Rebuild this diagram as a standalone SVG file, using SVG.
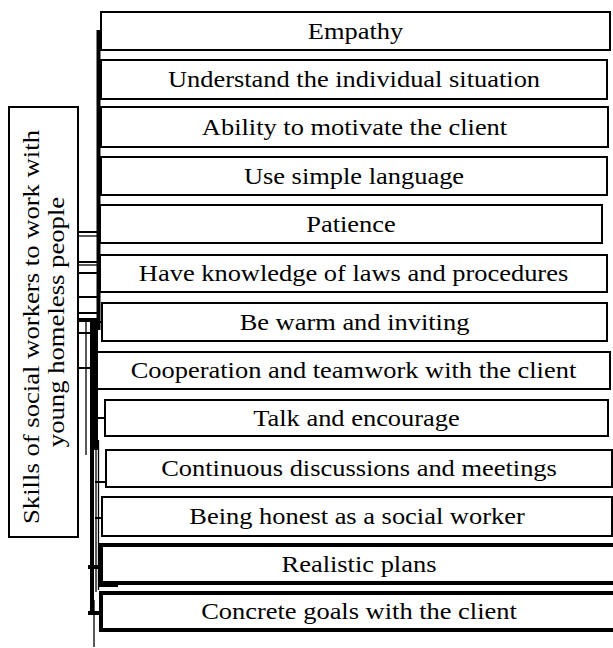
<svg xmlns="http://www.w3.org/2000/svg" width="613" height="648" viewBox="0 0 613 648">
<style>
.box{fill:#fff;stroke:#000;stroke-width:2}
.thick{stroke-width:4}
.lbl{font-family:'Liberation Serif',serif;font-size:23px;fill:#000;text-anchor:middle}
.c{stroke:#000;fill:none;stroke-width:2}
.c1{stroke:#000;fill:none;stroke-width:1.3}
.c3{stroke:#000;fill:none;stroke-width:4}
</style>
<rect width="613" height="648" fill="#fff"/>
<g id="connectors">
  <line class="c3" x1="98.5" y1="30" x2="98.5" y2="330" stroke-width="3"/>
  <line class="c" x1="98" y1="31" x2="102" y2="31"/>
  <line class="c" x1="98" y1="79.5" x2="102" y2="79.5"/>
  <line class="c" x1="98" y1="127" x2="102" y2="127"/>
  <line class="c" x1="98" y1="176" x2="102" y2="176"/>
  <line class="c" x1="98" y1="224" x2="101" y2="224"/>
  <line class="c" x1="98" y1="273" x2="101" y2="273"/>
  <line class="c" x1="98" y1="322" x2="103" y2="322"/>
  <line class="c" x1="78" y1="232" x2="98" y2="232"/>
  <line class="c1" x1="78" y1="236" x2="98" y2="236"/>
  <line class="c" x1="78" y1="262" x2="98" y2="262"/>
  <line class="c1" x1="78" y1="265" x2="98" y2="265"/>
  <line class="c" x1="78" y1="273" x2="98" y2="273"/>
  <line class="c" x1="78" y1="297" x2="98" y2="297"/>
  <line class="c" x1="78" y1="313" x2="98" y2="313"/>
  <line class="c3" x1="78" y1="320" x2="97" y2="320"/>
  <line class="c" x1="78" y1="333" x2="98" y2="333"/>
  <line class="c" x1="78" y1="368" x2="93" y2="368"/>
  <line class="c1" x1="86" y1="318" x2="86" y2="455"/>
  <line class="c3" x1="92" y1="318" x2="92" y2="615"/>
  <line class="c3" x1="96" y1="320" x2="96" y2="450" stroke-width="2.5"/>
  <line class="c1" x1="96" y1="450" x2="96" y2="592"/>
  <line class="c1" x1="98.5" y1="440" x2="98.5" y2="590"/>
  <line class="c1" x1="94" y1="600" x2="94" y2="647"/>
  <line class="c" x1="93" y1="370" x2="98" y2="370"/>
  <line class="c" x1="93" y1="418" x2="106" y2="418"/>
  <line class="c" x1="95" y1="482" x2="107" y2="482"/>
  <line class="c" x1="95" y1="518" x2="103" y2="518"/>
  <line class="c3" x1="88" y1="567" x2="102" y2="567" stroke-width="3"/>
  <line class="c" x1="98" y1="586" x2="118" y2="586"/>
  <line class="c3" x1="88" y1="613" x2="102" y2="613"/>
</g>
<g id="root">
  <rect class="box" x="9" y="107" width="69" height="430"/>
  <text class="lbl" transform="translate(39,327) rotate(-90) scale(1.16,1)">Skills of social workers to work with</text>
  <text class="lbl" transform="translate(64,322) rotate(-90) scale(1.16,1)">young homeless people</text>
</g>
<g id="n1"><rect class="box" x="101" y="12" width="509" height="38"/><text class="lbl" transform="translate(355.5,39) scale(1.15,1)">Empathy</text></g>
<g id="n2"><rect class="box" x="101" y="60" width="506" height="39"/><text class="lbl" transform="translate(354,87) scale(1.15,1)">Understand the individual situation</text></g>
<g id="n3"><rect class="box" x="101" y="107" width="507" height="40"/><text class="lbl" transform="translate(354.5,135) scale(1.15,1)">Ability to motivate the client</text></g>
<g id="n4"><rect class="box" x="101" y="157" width="506" height="38"/><text class="lbl" transform="translate(354,184) scale(1.15,1)">Use simple language</text></g>
<g id="n5"><rect class="box" x="100" y="205" width="502" height="38"/><text class="lbl" transform="translate(351,232) scale(1.15,1)">Patience</text></g>
<g id="n6"><rect class="box" x="100" y="255" width="507" height="37"/><text class="lbl" transform="translate(353.5,281) scale(1.15,1)">Have knowledge of laws and procedures</text></g>
<g id="n7"><rect class="box" x="102" y="303" width="505" height="38"/><text class="lbl" transform="translate(354.5,330) scale(1.15,1)">Be warm and inviting</text></g>
<g id="n8"><rect class="box" x="97" y="352" width="513" height="37"/><text class="lbl" transform="translate(353.5,378) scale(1.15,1)">Cooperation and teamwork with the client</text></g>
<g id="n9"><rect class="box" x="105" y="400" width="503" height="36"/><text class="lbl" transform="translate(356.5,425.5) scale(1.15,1)">Talk and encourage</text></g>
<g id="n10"><rect class="box" x="106" y="450" width="506" height="37"/><text class="lbl" transform="translate(359,476) scale(1.15,1)">Continuous discussions and meetings</text></g>
<g id="n11"><rect class="box" x="102" y="497" width="510" height="39"/><text class="lbl" transform="translate(357,524) scale(1.15,1)">Being honest as a social worker</text></g>
<g id="n12"><rect class="box thick" x="101" y="545" width="515" height="38"/><text class="lbl" transform="translate(359,572) scale(1.15,1)">Realistic plans</text></g>
<g id="n13"><rect class="box thick" x="101" y="593" width="515" height="37"/><text class="lbl" transform="translate(359,619) scale(1.15,1)">Concrete goals with the client</text></g>
</svg>
